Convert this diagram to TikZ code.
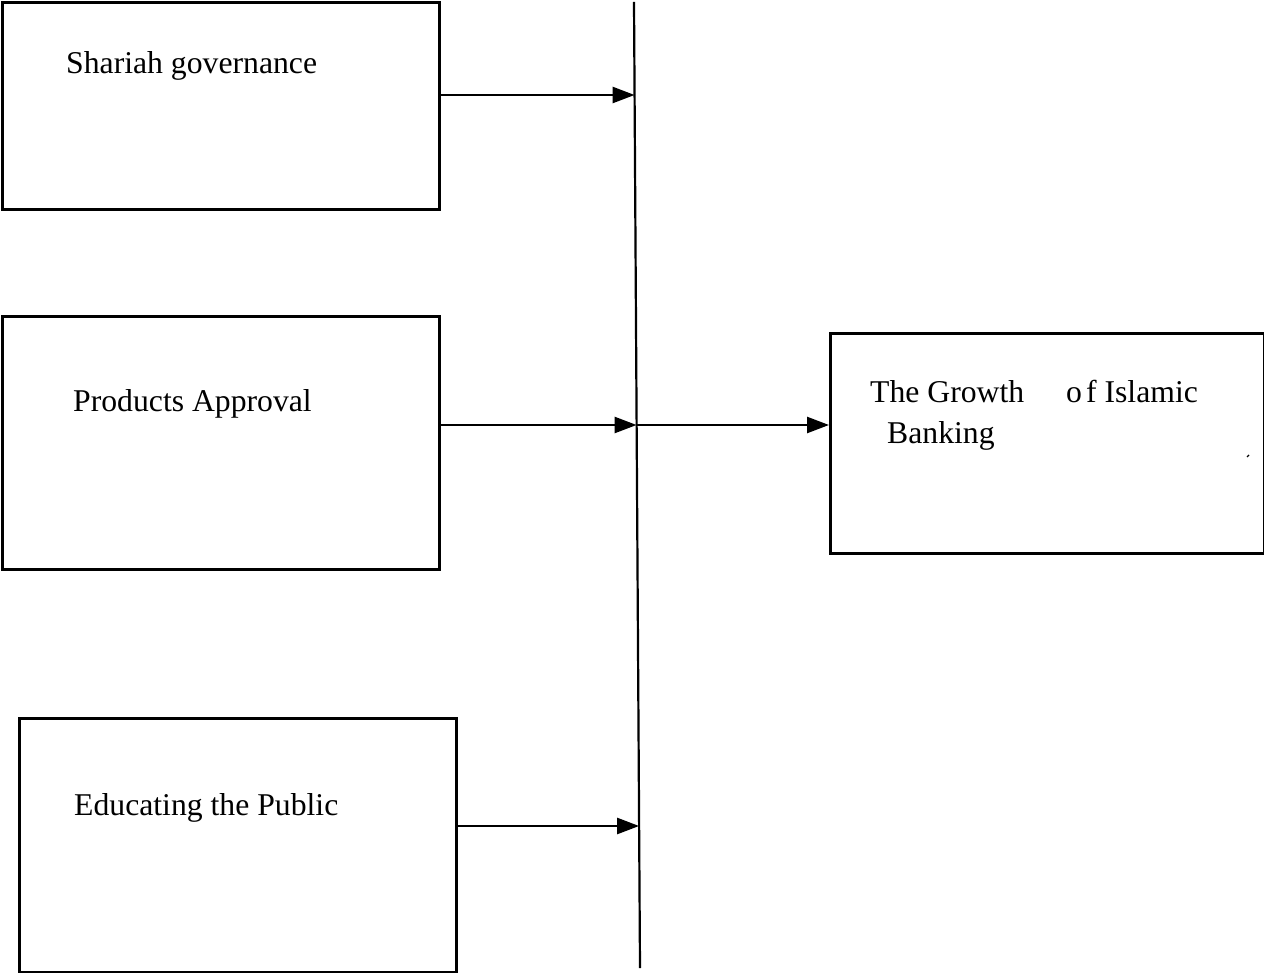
\documentclass[tikz,border=0pt]{standalone}
\usepackage{fontspec}
\setmainfont{Liberation Serif}
\usetikzlibrary{arrows.meta}
\begin{document}
\begin{tikzpicture}[x=1pt,y=-1pt,
  box/.style={draw=black,line width=2.8pt,rectangle,inner sep=0pt,anchor=north west},
  lbl/.style={anchor=base west,inner sep=0pt,font=\fontsize{31.7}{38}\selectfont},
  conn/.style={line width=2.5pt,-{Triangle[length=22pt,width=16pt]}},
  spine/.style={line width=2.2pt}]
\useasboundingbox (0,0) rectangle (1264,973);
% boxes
\node[box,minimum width=437pt,minimum height=207pt] (b1) at (1,1) {};
\node[box,minimum width=437pt,minimum height=253pt] (b2) at (1,315) {};
\node[box,minimum width=437pt,minimum height=254pt] (b3) at (18,717) {};
\node[box,minimum width=434pt,minimum height=220pt] (b4) at (829,332) {};
% texts
\node[lbl] (t1) at (66,74) {Shariah governance};
\node[lbl] (t2) at (73,412) {Products Approval};
\node[lbl] (t3) at (74,815) {Educating the Public};
\node[lbl] (t4) at (870,403) {The Growth\hspace{42pt}o\hspace{4pt}f Islamic};
\node[lbl] (t5) at (887,443) {Banking};
\draw[line width=1.2pt] (1247,457) -- (1249,455);
% vertical spine
\coordinate (vt) at (634,2);
\coordinate (vb) at (640,968);
\draw[spine] (vt) -- (vb);
\coordinate (j1) at (634.6,95);
\coordinate (j2) at (636.6,425);
\coordinate (j3) at (639.1,826);
% connectors
\draw[conn] (b1.east |- j1) -- (j1);
\draw[conn] (b2.east |- j2) -- (j2);
\draw[conn] (b3.east |- j3) -- (j3);
\draw[conn] (j2) -- (b4.west |- j2);
\end{tikzpicture}
\end{document}
